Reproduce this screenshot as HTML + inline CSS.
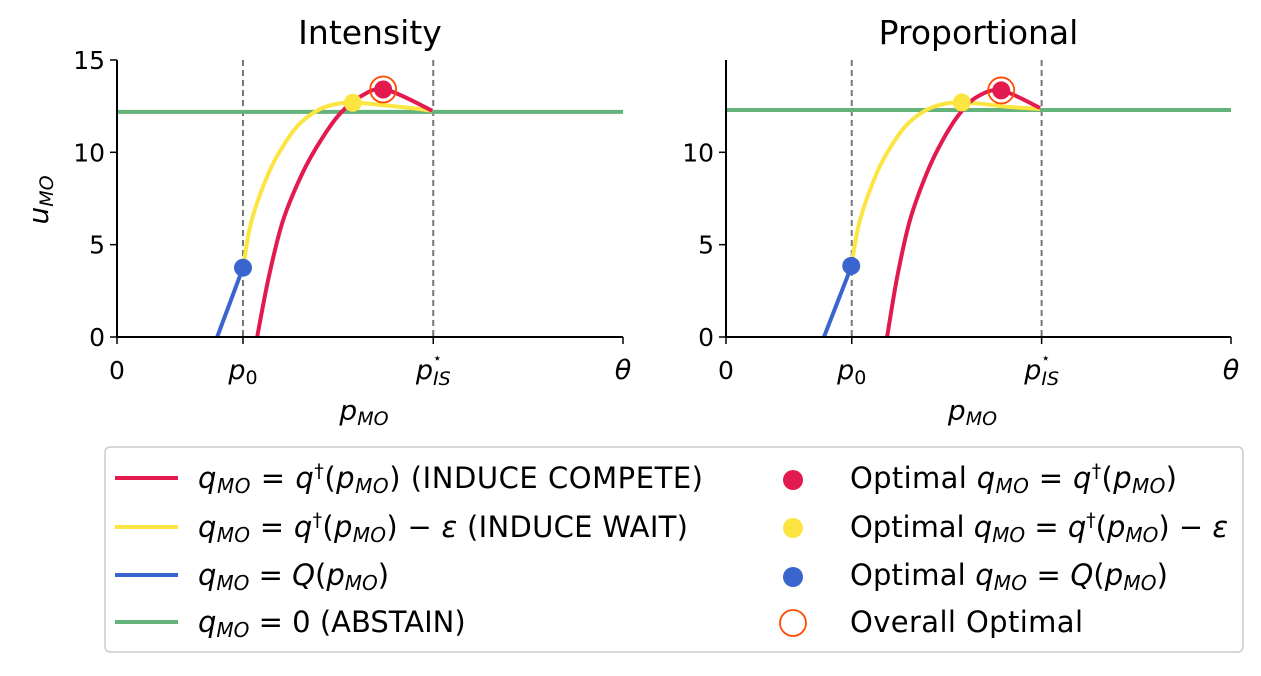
<!DOCTYPE html>
<html><head><meta charset="utf-8"><style>
body{margin:0;background:#fff}
svg{font-family:"DejaVu Sans","Liberation Sans",sans-serif}
.t{font-size:24px}
.L{font-size:29px}
</style></head><body>
<svg id="chart" width="1261" height="671">
<g id="panels"></g>
<g>
<rect x="105" y="447" width="1138" height="205" rx="5" fill="#fff" stroke="#ccc" stroke-width="1.5"/>
<line x1="115" y1="478" x2="178" y2="478" stroke="#e31a4e" stroke-width="4"/>
<text class="L" x="198" y="488" textLength="505"><tspan font-style="italic">q<tspan font-size="20" dy="5">MO</tspan></tspan><tspan dy="-5"> = </tspan><tspan font-style="italic">q</tspan><tspan font-size="19" dy="-11">†</tspan><tspan dy="11">(</tspan><tspan font-style="italic">p<tspan font-size="20" dy="5">MO</tspan></tspan><tspan dy="-5">) (INDUCE COMPETE)</tspan></text>
<line x1="115" y1="527" x2="178" y2="527" stroke="#fde541" stroke-width="4"/>
<text class="L" x="198" y="537" textLength="490"><tspan font-style="italic">q<tspan font-size="20" dy="5">MO</tspan></tspan><tspan dy="-5"> = </tspan><tspan font-style="italic">q</tspan><tspan font-size="19" dy="-11">†</tspan><tspan dy="11">(</tspan><tspan font-style="italic">p<tspan font-size="20" dy="5">MO</tspan></tspan><tspan dy="-5">) − </tspan><tspan font-style="italic">ε</tspan><tspan> (INDUCE WAIT)</tspan></text>
<line x1="115" y1="575" x2="178" y2="575" stroke="#3a65cf" stroke-width="4"/>
<text class="L" x="198" y="585"><tspan font-style="italic">q<tspan font-size="20" dy="5">MO</tspan></tspan><tspan dy="-5"> = </tspan><tspan font-style="italic">Q</tspan><tspan>(</tspan><tspan font-style="italic">p<tspan font-size="20" dy="5">MO</tspan></tspan><tspan dy="-5">)</tspan></text>
<line x1="115" y1="622" x2="178" y2="622" stroke="#64b37a" stroke-width="4"/>
<text class="L" x="198" y="632"><tspan font-style="italic">q<tspan font-size="20" dy="5">MO</tspan></tspan><tspan dy="-5"> = 0 (ABSTAIN)</tspan></text>
<circle cx="793" cy="480" r="10" fill="#e31a4e"/>
<text class="L" x="850" y="488" textLength="327">Optimal <tspan font-style="italic">q<tspan font-size="20" dy="5">MO</tspan></tspan><tspan dy="-5"> = </tspan><tspan font-style="italic">q</tspan><tspan font-size="19" dy="-11">†</tspan><tspan dy="11">(</tspan><tspan font-style="italic">p<tspan font-size="20" dy="5">MO</tspan></tspan><tspan dy="-5">)</tspan></text>
<circle cx="793" cy="528" r="10" fill="#fde541"/>
<text class="L" x="850" y="537" textLength="378">Optimal <tspan font-style="italic">q<tspan font-size="20" dy="5">MO</tspan></tspan><tspan dy="-5"> = </tspan><tspan font-style="italic">q</tspan><tspan font-size="19" dy="-11">†</tspan><tspan dy="11">(</tspan><tspan font-style="italic">p<tspan font-size="20" dy="5">MO</tspan></tspan><tspan dy="-5">) − </tspan><tspan font-style="italic">ε</tspan></text>
<circle cx="793" cy="577" r="10" fill="#3a65cf"/>
<text class="L" x="850" y="585" textLength="318">Optimal <tspan font-style="italic">q<tspan font-size="20" dy="5">MO</tspan></tspan><tspan dy="-5"> = </tspan><tspan font-style="italic">Q</tspan><tspan>(</tspan><tspan font-style="italic">p<tspan font-size="20" dy="5">MO</tspan></tspan><tspan dy="-5">)</tspan></text>
<circle cx="793" cy="623" r="13" fill="none" stroke="#ff4a00" stroke-width="1.8"/>
<text class="L" x="850" y="632" textLength="233">Overall Optimal</text>
</g>
</svg>
<script>
const yTicks=[0,5,10,15];
const xTickVals=[0,0.249,0.625,1];
const abstainL=12.19, abstainR=12.29;
const redXL=[0.277,0.300,0.328,0.367,0.404,0.441,0.480,0.530,0.623];
const redYL=[0,3.25,6.3,8.9,10.7,12.1,13.0,13.4,12.25];
const yelXL=[0.249,0.266,0.300,0.332,0.365,0.411,0.466,0.562,0.623];
const yelYL=[3.75,6.3,8.9,10.5,11.65,12.45,12.68,12.45,12.25];
const bluXL=[0.198,0.249], bluYL=[0,3.75];
const redXR=[0.319,0.339,0.364,0.398,0.430,0.463,0.497,0.545,0.622];
const redYR=[0,3.25,6.3,8.9,10.7,12.1,13.0,13.35,12.4];
const yelXR=[0.248,0.265,0.299,0.331,0.364,0.410,0.467,0.562,0.622];
const yelYR=[3.8,6.3,8.9,10.5,11.65,12.45,12.7,12.45,12.35];
const bluXR=[0.194,0.248], bluYR=[0,3.8];
const optL={red:[0.526,13.4],yel:[0.466,12.68],blu:[0.249,3.75]};
const optR={red:[0.545,13.35],yel:[0.467,12.7],blu:[0.248,3.85]};
const NS="http://www.w3.org/2000/svg";
const G=document.getElementById('panels');
function mk(t,a,p){const e=document.createElementNS(NS,t);for(const k in a)e.setAttribute(k,a[k]);(p||G).appendChild(e);return e;}
function spline(pts){let d='M'+pts[0][0]+','+pts[0][1];for(let i=0;i<pts.length-1;i++){const p0=pts[Math.max(0,i-1)],p1=pts[i],p2=pts[i+1],p3=pts[Math.min(pts.length-1,i+2)];
d+=` C${p1[0]+(p2[0]-p0[0])/6},${p1[1]+(p2[1]-p0[1])/6} ${p2[0]-(p3[0]-p1[0])/6},${p2[1]-(p3[1]-p1[1])/6} ${p2[0]},${p2[1]}`;}return d;}
function panel(name,x0,x1,title,showY15,ab,rx,ry,yx,yy,bx,by,opt,top){
 const g=mk('g',{});
 
 
 const X=v=>x0+v*(x1-x0), Y=v=>337-v*18.47;
 [xTickVals[1],xTickVals[2]].forEach(v=>mk('line',{x1:X(v),x2:X(v),y1:top,y2:337,stroke:'#777','stroke-width':2,'stroke-dasharray':'6,4'},g));
 const cl=mk('clipPath',{id:'c'+name},g);mk('rect',{x:x0,y:top-20,width:x1-x0,height:337-top+20},cl);
 const cg=mk('g',{'clip-path':'url(#c'+name+')'},g);
 const ag=mk('line',{x1:x0,x2:x1,y1:Y(ab),y2:Y(ab),stroke:'#64b37a','stroke-width':4},cg);
 
 
 const mkc=(xs,ys,c,n)=>{const e=mk('path',{d:spline(xs.map((v,i)=>[X(v),Y(ys[i])])),fill:'none',stroke:c,'stroke-width':4},cg);};
 mkc(yx,yy,'#fde541','induce-wait-curve');
 mkc(rx,ry,'#e31a4e','induce-compete-curve');
 mkc(bx,by,'#3a65cf','q-curve');
 [['blu','#3a65cf'],['yel','#fde541'],['red','#e31a4e']].forEach(([k,c])=>{const e=mk('circle',{cx:X(opt[k][0]),cy:Y(opt[k][1]),r:9,fill:c},g);});
 const o=mk('circle',{cx:X(opt.red[0]),cy:Y(opt.red[1]),r:13,fill:'none',stroke:'#ff4a00','stroke-width':1.8},g);
 
 
 mk('line',{x1:x0,x2:x0,y1:top,y2:338,stroke:'#000','stroke-width':2},g);
 mk('line',{x1:x0-1,x2:x1,y1:337,y2:337,stroke:'#000','stroke-width':2},g);
 yTicks.forEach(v=>{if(v==15&&!showY15)return;mk('line',{x1:x0-7,x2:x0,y1:Y(v),y2:Y(v),stroke:'#000','stroke-width':1.5},g);const t=mk('text',{x:x0-12,y:Y(v)+9,'text-anchor':'end','font-size':25},g);t.textContent=v;});
 xTickVals.forEach((v,i)=>{mk('line',{x1:X(v),x2:X(v),y1:337,y2:344,stroke:'#000','stroke-width':1.5},g);const t=mk('text',{x:X(v),y:379,'text-anchor':'middle','font-size':27},g);
  if(i==0){t.setAttribute('font-size',25);t.textContent='0';}else if(i==3){t.setAttribute('font-style','italic');t.textContent='θ';}
  else if(i==1)t.innerHTML='<tspan font-style="italic">p</tspan><tspan font-size="19" dy="5">0</tspan>';
  else t.innerHTML='<tspan font-style="italic">p</tspan><tspan font-size="19" dy="6" font-style="italic">IS</tspan><tspan font-size="15" dx="-18" dy="-22">⋆</tspan>';});
 const tt=mk('text',{x:(x0+x1)/2,y:44,'text-anchor':'middle','font-size':33},g);tt.textContent=title;
 
 const xl=mk('text',{x:(x0+x1)/2-6,y:420,'text-anchor':'middle','font-size':28},g);
 xl.innerHTML='<tspan font-style="italic">p</tspan><tspan font-size="19" dy="5" font-style="italic">MO</tspan>';
 
}
panel('intensity',117,623,'Intensity',true,abstainL,redXL,redYL,yelXL,yelYL,bluXL,bluYL,optL,60);
panel('proportional',726,1231,'Proportional',false,abstainR,redXR,redYR,yelXR,yelYR,bluXR,bluYR,optR,60);
const yl=mk('text',{x:0,y:0,'font-size':28,transform:'translate(48,200) rotate(-90)','text-anchor':'middle'});
yl.innerHTML='<tspan font-style="italic">u</tspan><tspan font-size="19" dy="5" font-style="italic">MO</tspan>';


</script>
</body></html>
